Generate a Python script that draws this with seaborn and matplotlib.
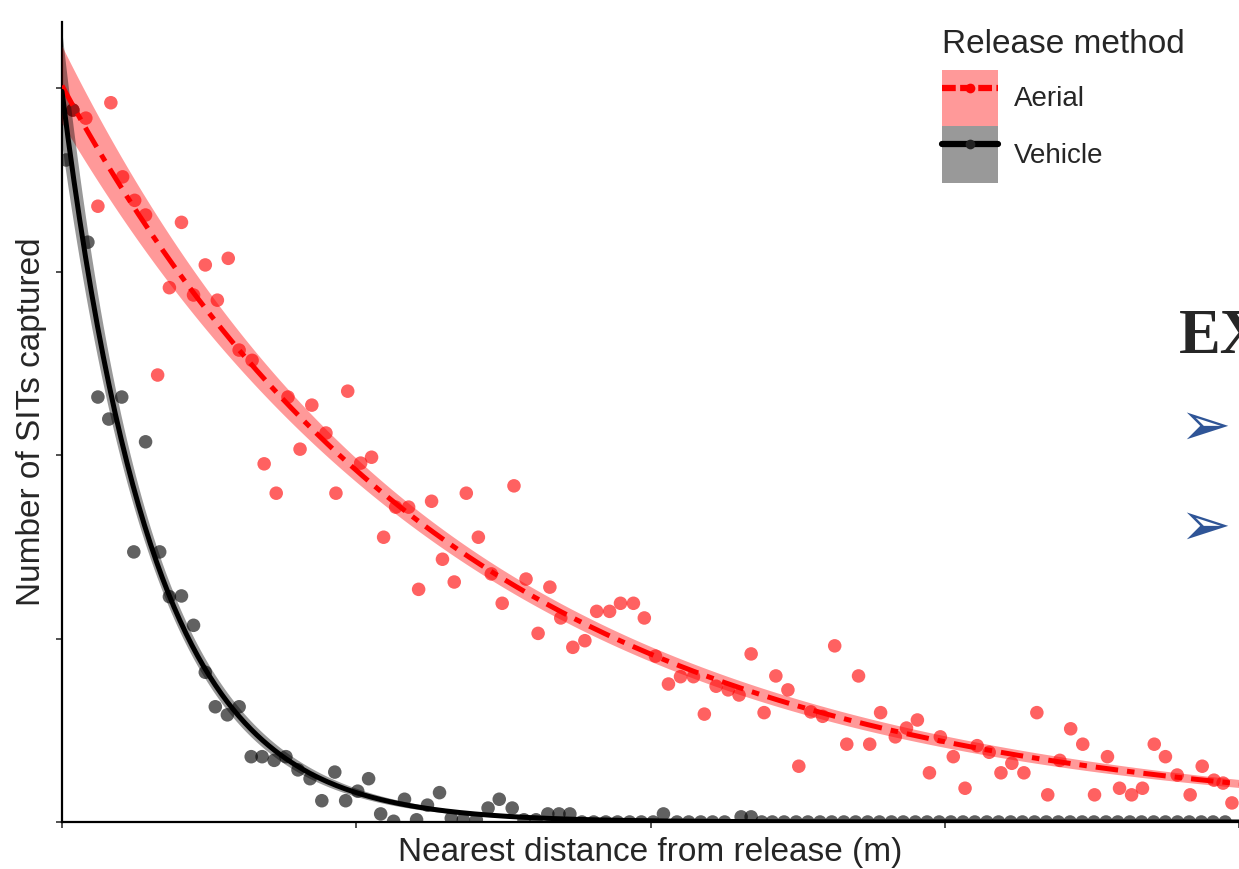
import numpy as np
import pandas as pd
import seaborn as sns
import matplotlib
matplotlib.use('Agg')
import matplotlib.pyplot as plt
from matplotlib.patches import Patch
from matplotlib.lines import Line2D

# Aerial releases: distance (m) vs SITs captured
aerial_x = [3.7, 8.1, 12.2, 16.6, 20.6, 24.7, 28.4, 32.5, 36.5, 40.6,
            44.7, 48.7, 52.8, 56.5, 60.2, 64.6, 68.7, 72.8, 76.8, 80.9,
            84.9, 89.7, 93.1, 97.1, 101.5, 105.2, 109.3, 113.4, 117.8, 121.2,
            125.6, 129.3, 133.3, 137.4, 141.5, 145.9, 149.6, 153.6, 157.7, 161.8,
            165.8, 169.5, 173.6, 177.7, 181.7, 186.1, 189.8, 194.2, 197.9, 201.7,
            206.1, 210.2, 214.6, 218.3, 222.3, 226.4, 230.1, 234.2, 238.6, 242.6,
            246.7, 250.4, 254.5, 258.5, 262.6, 266.7, 270.7, 274.5, 278.2, 283.2,
            287.0, 290.7, 294.8, 298.5, 302.9, 306.9, 311.0, 315.1, 319.1, 322.8,
            326.9, 331.3, 335.0, 339.1, 342.8, 346.9, 350.9, 355.3, 359.4, 363.5,
            367.2, 371.2, 375.0, 379.0, 383.4, 387.5, 391.5, 394.6, 397.6]
aerial_y = [97.0, 95.9, 83.9, 98.0, 87.9, 84.7, 82.7, 60.9, 72.8, 81.7,
            71.8, 75.9, 71.1, 76.8, 64.3, 62.9, 48.8, 44.8, 57.9, 50.8,
            56.8, 53.0, 44.8, 58.7, 48.9, 49.7, 38.8, 42.9, 42.9, 31.7,
            43.7, 35.8, 32.7, 44.8, 38.8, 33.8, 29.8, 45.8, 33.1, 25.7,
            32.0, 27.8, 23.8, 24.7, 28.7, 28.7, 29.8, 29.8, 27.8, 22.6,
            18.8, 19.8, 19.8, 14.7, 18.5, 18.0, 17.3, 22.9, 14.9, 19.9,
            18.0, 7.6, 15.0, 14.4, 24.0, 10.6, 19.9, 10.6, 14.9, 11.6,
            12.8, 13.9, 6.7, 11.6, 8.9, 4.6, 10.4, 9.5, 6.7, 8.0,
            6.7, 14.9, 3.7, 8.4, 12.7, 10.6, 3.7, 8.9, 4.6, 3.7,
            4.6, 10.6, 8.9, 6.4, 3.7, 7.6, 5.7, 5.3, 2.6]

# Vehicle releases
vehicle_x = [1.4, 3.7, 8.8, 12.2, 15.9, 20.3, 24.4, 28.4, 33.2, 36.5,
             40.6, 44.7, 48.7, 52.1, 56.2, 60.2, 64.3, 68.0, 72.1, 76.1,
             80.2, 84.3, 88.3, 92.7, 96.4, 100.5, 104.2, 108.3, 112.7, 116.4,
             120.5, 124.2, 128.3, 132.3, 136.4, 140.8, 144.8, 148.6, 153.0, 157.0,
             161.1, 165.1, 168.9, 172.6, 176.7, 180.7, 184.8, 188.8, 192.9, 196.9,
             200.9, 204.4, 209.0, 213.0, 217.1, 221.1, 225.2, 230.8, 234.2, 237.8,
             241.4, 245.4, 249.5, 253.5, 257.6, 261.6, 265.7, 269.7, 273.8, 277.8,
             281.9, 285.9, 290.0, 294.0, 298.1, 302.1, 306.2, 310.2, 314.3, 318.3,
             322.4, 326.4, 330.5, 334.5, 338.6, 342.6, 346.7, 350.7, 354.8, 358.8,
             362.9, 366.9, 371.0, 375.0, 379.1, 383.1, 387.2, 391.2, 395.3]
vehicle_y = [90.2, 97.0, 79.0, 57.9, 54.9, 57.9, 36.8, 51.8, 36.8, 30.7,
             30.8, 26.8, 20.4, 15.7, 14.6, 15.7, 8.9, 8.9, 8.4, 8.9,
             7.1, 5.9, 2.9, 6.8, 2.9, 4.2, 5.9, 1.1, 0.1, 3.1,
             0.3, 2.3, 4.0, 0.5, 0.3, 0.3, 1.9, 3.1, 1.9, 0.3,
             0.3, 1.1, 1.1, 1.1, 0.0, 0.0, 0.0, 0.0, 0.0, 0.0,
             0.0, 1.1, 0.0, 0.0, 0.0, 0.0, 0.0, 0.7, 0.7, 0.0,
             0.0, 0.0, 0.0, 0.0, 0.0, 0.0, 0.0, 0.0, 0.0, 0.0,
             0.0, 0.0, 0.0, 0.0, 0.0, 0.0, 0.0, 0.0, 0.0, 0.0,
             0.0, 0.0, 0.0, 0.0, 0.0, 0.0, 0.0, 0.0, 0.0, 0.0,
             0.0, 0.0, 0.0, 0.0, 0.0, 0.0, 0.0, 0.0, 0.0]

methods = ['Aerial', 'Vehicle']
x_ticks = [0, 100, 200, 300, 400]
y_ticks = [0, 25, 50, 75, 100]

df = pd.concat([
    pd.DataFrame({'dist': aerial_x, 'sits': aerial_y, 'method': 'Aerial'}),
    pd.DataFrame({'dist': vehicle_x, 'sits': vehicle_y, 'method': 'Vehicle'}),
])


def fit_glm(x, y, grid):
    # quasi-Poisson GLM with log link (IRLS), 95% band on the link scale
    x = np.asarray(x, dtype=float)
    y = np.asarray(y, dtype=float)
    X = np.column_stack([np.ones_like(x), x])
    pos = y > 0.5
    slope, inter = np.polyfit(x[pos], np.log(y[pos]), 1)
    beta = np.array([inter, slope])
    for _ in range(100):
        mu = np.exp(X @ beta)
        z = X @ beta + (y - mu) / mu
        XtW = X.T * mu
        beta = np.linalg.solve(XtW @ X, XtW @ z)
    mu = np.exp(X @ beta)
    phi = np.sum((y - mu) ** 2 / mu) / (len(y) - 2)
    cov = phi * np.linalg.inv((X.T * mu) @ X)
    Xg = np.column_stack([np.ones_like(grid), grid])
    eta = Xg @ beta
    se = np.sqrt(np.einsum('ij,jk,ik->i', Xg, cov, Xg))
    return np.exp(eta), np.exp(eta - 1.96 * se), np.exp(eta + 1.96 * se)


sns.set_style('ticks')
plt.rcParams['font.family'] = ['Liberation Sans', 'DejaVu Sans']

fig = plt.figure(figsize=(12.39, 8.69), dpi=100)
ax = fig.add_axes([62 / 1239, 47 / 869, 1 - 62 / 1239, 800 / 869])

palette = {'Aerial': 'red', 'Vehicle': 'black'}
sns.scatterplot(data=df, x='dist', y='sits', hue='method', palette=palette,
                alpha=0.62, s=95, edgecolor='none', legend=False, ax=ax, zorder=2)

grid = np.linspace(0, 400, 400)
styles = {'Aerial': (0, (4.5, 1.8, 1.5, 1.8)), 'Vehicle': '-'}
for m in methods:
    sub = df[df['method'] == m]
    fit, lo, hi = fit_glm(sub['dist'], sub['sits'], grid)
    ax.fill_between(grid, lo, hi, color=palette[m], alpha=0.4, lw=0, zorder=3)
    sns.lineplot(x=grid, y=fit, color=palette[m], linewidth=3.6,
                 linestyle=styles[m], ax=ax, zorder=4)

ax.set_xlim(0, 398.3)
ax.set_ylim(0, 109)
ax.set_xticks(x_ticks)
ax.set_yticks(y_ticks)
ax.tick_params(length=4.5, width=1.2, color='#333333',
               labelbottom=False, labelleft=False)
for side in ['top', 'right']:
    ax.spines[side].set_visible(False)
for side in ['left', 'bottom']:
    ax.spines[side].set_linewidth(1.6)
    ax.spines[side].set_color('black')
ax.set_xlabel('Nearest distance from release (m)', fontsize=24, labelpad=6)
ax.set_ylabel('Number of SITs captured', fontsize=24, labelpad=6)

handles = [
    (Patch(facecolor='red', alpha=0.4, edgecolor='none'),
     Line2D([], [], color='red', lw=4.5, linestyle=(0, (2.2, 0.7)),
            marker='o', ms=7, markeredgewidth=0)),
    (Patch(facecolor='black', alpha=0.4, edgecolor='none'),
     Line2D([], [], color='black', lw=4.5, marker='o', ms=7,
            markeredgewidth=0, markerfacecolor='#222222')),
]
leg = ax.legend(handles, methods, title='Release method', loc='upper left',
                bbox_to_anchor=(942 / 1239, 1 - 29 / 869),
                bbox_transform=fig.transFigure, frameon=False, fontsize=20,
                title_fontsize=24, handlelength=2.0, handleheight=2.75,
                labelspacing=0.0, handletextpad=0.6, numpoints=1,
                alignment='left', borderpad=0.0, borderaxespad=0.0)
leg._legend_box.sep = 7

# text fragments of the slide overlapping the chart
fig.text(1179 / 1239, 1 - 353 / 869, 'EX', family='Liberation Serif',
         fontweight='bold', fontsize=45, va='baseline', ha='left')
for py in [428, 528]:
    fig.text(1205 / 1239, 1 - py / 869, '\u27a2', family='DejaVu Sans',
             color='#2F5597', fontsize=44, ha='center', va='center')

fig.savefig('out.png', dpi=100)
